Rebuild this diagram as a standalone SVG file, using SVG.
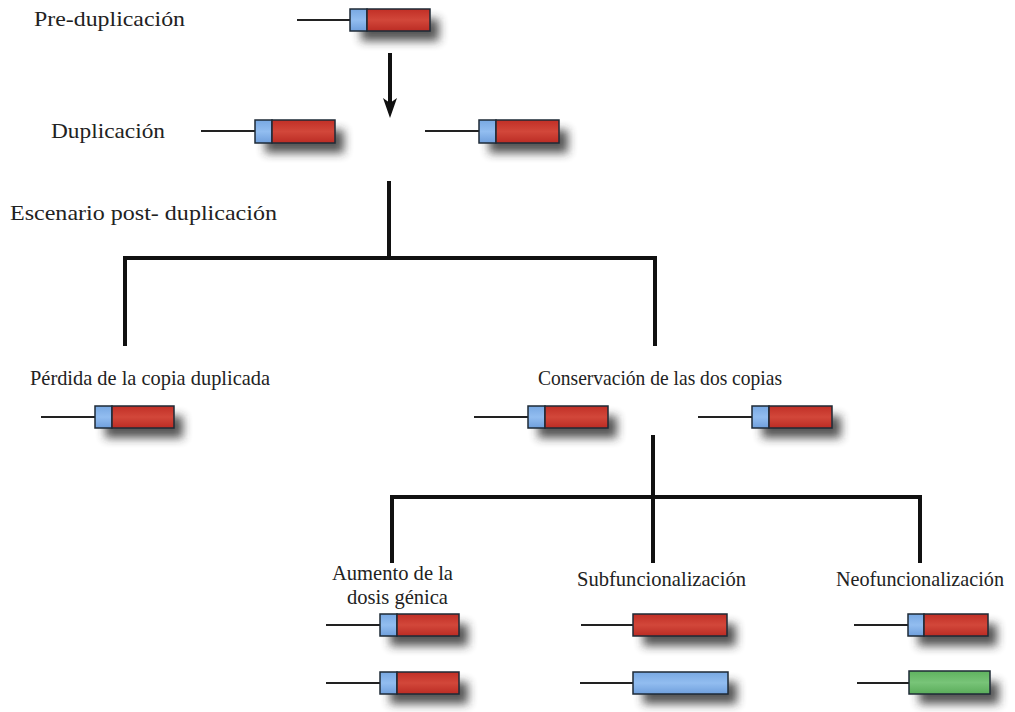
<svg xmlns="http://www.w3.org/2000/svg" width="1015" height="712" viewBox="0 0 1015 712">
  <style>
    .lbl { font-family: "Liberation Serif", "DejaVu Serif", serif; font-size: 22px; fill: #222; }
    .stem { stroke: #222; stroke-width: 2; }
    .box { stroke: #1e2a36; stroke-width: 1.5; }
    .blue { fill: url(#gBlue); }
    .red { fill: url(#gRed); }
    .green { fill: url(#gGreen); }
    .shadow { fill: #2a2a2a; opacity: 0.8; filter: url(#soft); }
    .tree { stroke: #111; stroke-width: 4; fill: none; stroke-linejoin: miter; }
  </style>
  <defs>
    <filter id="soft" x="-40%" y="-100%" width="180%" height="300%">
      <feGaussianBlur stdDeviation="5"/>
    </filter>
    <linearGradient id="gBlue" x1="0" y1="0" x2="0" y2="1">
      <stop offset="0" stop-color="#78a8e2"/>
      <stop offset="0.5" stop-color="#92bdf0"/>
      <stop offset="1" stop-color="#6f9fdc"/>
    </linearGradient>
    <linearGradient id="gRed" x1="0" y1="0" x2="0" y2="1">
      <stop offset="0" stop-color="#c12f26"/>
      <stop offset="0.5" stop-color="#d2473a"/>
      <stop offset="1" stop-color="#bb2c24"/>
    </linearGradient>
    <linearGradient id="gGreen" x1="0" y1="0" x2="0" y2="1">
      <stop offset="0" stop-color="#5fb25f"/>
      <stop offset="0.5" stop-color="#78c478"/>
      <stop offset="1" stop-color="#5aac5a"/>
    </linearGradient>
  </defs>

  <!-- Connectors -->
  <g id="connectors">
    <line x1="390" y1="53" x2="390" y2="104" stroke="#111" stroke-width="4"/>
    <path d="M383,98 L390,118 L397,98 L390,103 Z" fill="#111"/>
    <path class="tree" d="M389,181 V258 M125,346 V258 H655 V346"/>
    <path class="tree" d="M653,435 V563 M392,563 V497 H920 V563"/>
  </g>

  <!-- Labels -->
  <g id="labels">
    <text class="lbl" x="34" y="26" textLength="151" lengthAdjust="spacingAndGlyphs">Pre-duplicación</text>
    <text class="lbl" x="51" y="138" textLength="114" lengthAdjust="spacingAndGlyphs">Duplicación</text>
    <text class="lbl" x="10" y="220" textLength="267" lengthAdjust="spacingAndGlyphs">Escenario post- duplicación</text>
    <text class="lbl" x="30" y="385" textLength="240" lengthAdjust="spacingAndGlyphs">Pérdida de la copia duplicada</text>
    <text class="lbl" x="538" y="385" textLength="244" lengthAdjust="spacingAndGlyphs">Conservación de las dos copias</text>
    <text class="lbl" x="332" y="580" textLength="121" lengthAdjust="spacingAndGlyphs">Aumento de la</text>
    <text class="lbl" x="347" y="604" textLength="101" lengthAdjust="spacingAndGlyphs">dosis génica</text>
    <text class="lbl" x="577" y="586" textLength="169" lengthAdjust="spacingAndGlyphs">Subfuncionalización</text>
    <text class="lbl" x="836" y="586" textLength="168" lengthAdjust="spacingAndGlyphs">Neofuncionalización</text>
  </g>

  <!-- Genes: promoter line, shadow, coloured exons -->
  <g id="gene-pre">
    <line class="stem" x1="297" y1="20" x2="350" y2="20"/>
    <rect class="shadow" x="361" y="19" width="78" height="22"/>
    <rect class="box blue" x="350" y="9" width="17" height="22"/>
    <rect class="box red" x="367" y="9" width="63" height="22"/>
  </g>

  <g id="gene-dup-left">
    <line class="stem" x1="201" y1="131" x2="255" y2="131"/>
    <rect class="shadow" x="265" y="130" width="79" height="23"/>
    <rect class="box blue" x="255" y="120" width="17" height="23"/>
    <rect class="box red" x="272" y="120" width="63" height="23"/>
  </g>

  <g id="gene-dup-right">
    <line class="stem" x1="425" y1="131" x2="479" y2="131"/>
    <rect class="shadow" x="489" y="130" width="79" height="23"/>
    <rect class="box blue" x="479" y="120" width="17" height="23"/>
    <rect class="box red" x="496" y="120" width="63" height="23"/>
  </g>

  <g id="gene-loss">
    <line class="stem" x1="41" y1="417" x2="95" y2="417"/>
    <rect class="shadow" x="105" y="416" width="78" height="22"/>
    <rect class="box blue" x="95" y="406" width="17" height="22"/>
    <rect class="box red" x="112" y="406" width="62" height="22"/>
  </g>

  <g id="gene-keep-left">
    <line class="stem" x1="474" y1="417" x2="528" y2="417"/>
    <rect class="shadow" x="538" y="416" width="79" height="22"/>
    <rect class="box blue" x="528" y="406" width="17" height="22"/>
    <rect class="box red" x="545" y="406" width="63" height="22"/>
  </g>

  <g id="gene-keep-right">
    <line class="stem" x1="698" y1="417" x2="752" y2="417"/>
    <rect class="shadow" x="762" y="416" width="79" height="22"/>
    <rect class="box blue" x="752" y="406" width="17" height="22"/>
    <rect class="box red" x="769" y="406" width="63" height="22"/>
  </g>

  <g id="gene-dosage-1">
    <line class="stem" x1="326" y1="625" x2="380" y2="625"/>
    <rect class="shadow" x="390" y="624" width="78" height="22"/>
    <rect class="box blue" x="380" y="614" width="17" height="22"/>
    <rect class="box red" x="397" y="614" width="62" height="22"/>
  </g>

  <g id="gene-dosage-2">
    <line class="stem" x1="326" y1="683" x2="380" y2="683"/>
    <rect class="shadow" x="390" y="682" width="78" height="22"/>
    <rect class="box blue" x="380" y="672" width="17" height="22"/>
    <rect class="box red" x="397" y="672" width="62" height="22"/>
  </g>

  <g id="gene-subfunc-1">
    <line class="stem" x1="581" y1="625" x2="633" y2="625"/>
    <rect class="shadow" x="643" y="624" width="93" height="22"/>
    <rect class="box red" x="633" y="614" width="94" height="22"/>
  </g>

  <g id="gene-subfunc-2">
    <line class="stem" x1="580" y1="683" x2="633" y2="683"/>
    <rect class="shadow" x="643" y="682" width="94" height="22"/>
    <rect class="box blue" x="633" y="672" width="95" height="22"/>
  </g>

  <g id="gene-neofunc-1">
    <line class="stem" x1="854" y1="625" x2="908" y2="625"/>
    <rect class="shadow" x="918" y="624" width="79" height="22"/>
    <rect class="box blue" x="908" y="614" width="16" height="22"/>
    <rect class="box red" x="924" y="614" width="64" height="22"/>
  </g>

  <g id="gene-neofunc-2">
    <line class="stem" x1="857" y1="683" x2="909" y2="683"/>
    <rect class="shadow" x="919" y="682" width="80" height="22"/>
    <rect class="box green" x="909" y="671" width="81" height="23"/>
  </g>
</svg>
